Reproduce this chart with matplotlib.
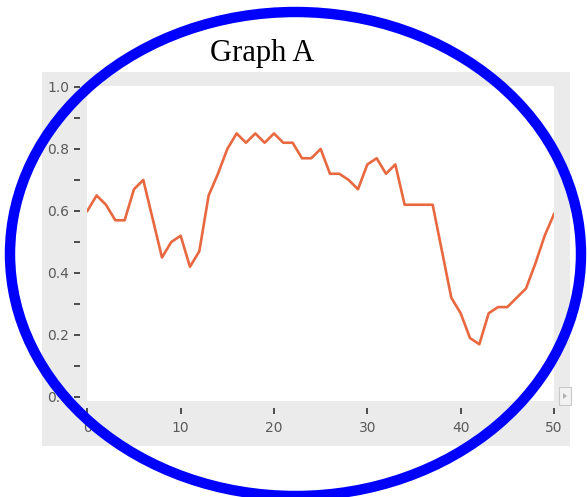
import matplotlib
matplotlib.use('Agg')
import matplotlib.pyplot as plt
from matplotlib.patches import Ellipse, Rectangle, Polygon

# values
x_vals = list(range(51))
y_vals = [0.60, 0.65, 0.62, 0.57, 0.57, 0.67, 0.70, 0.575, 0.45, 0.50,
          0.52, 0.42, 0.47, 0.65, 0.72, 0.80, 0.85, 0.82, 0.85, 0.82,
          0.85, 0.82, 0.82, 0.77, 0.77, 0.80, 0.72, 0.72, 0.70, 0.67,
          0.75, 0.77, 0.72, 0.75, 0.62, 0.62, 0.62, 0.62, 0.47, 0.32,
          0.27, 0.19, 0.17, 0.27, 0.29, 0.29, 0.32, 0.35, 0.43, 0.52,
          0.59]
x_ticks = [0, 10, 20, 30, 40, 50]
y_ticks = [0.0, 0.2, 0.4, 0.6, 0.8, 1.0]
y_minor = [0.1, 0.3, 0.5, 0.7, 0.9]
title = 'Graph A'

W, H = 587, 497
fig = plt.figure(figsize=(W / 100, H / 100), dpi=100)
fig.patch.set_facecolor('white')


def px(x, y):
    # pixel coords (top-left origin) -> inches for dpi_scale_trans
    return x / 100, (H - y) / 100


# grey panel behind the plot
gx, gy = px(42, 446)
fig.add_artist(Rectangle((gx, gy), (570 - 42) / 100, (446 - 72) / 100,
                         transform=fig.dpi_scale_trans, facecolor='#ebebeb',
                         edgecolor='none', zorder=-1))

# little scroll arrow box at bottom right
bx, by = px(559, 405)
fig.add_artist(Rectangle((bx, by), 0.12, 0.18, transform=fig.dpi_scale_trans,
                         facecolor='#f2f2f2', edgecolor='#c8c8c8', lw=0.8, zorder=2))
fig.add_artist(Polygon([px(563, 393), px(563, 399), px(567, 396)],
                       transform=fig.dpi_scale_trans, facecolor='#b0b0b0',
                       edgecolor='none', zorder=3))

ax = fig.add_axes([87.3 / W, 1 - 400.7 / H, 466.7 / W, 315 / H])
ax.set_facecolor('white')
ax.plot(x_vals, y_vals, color='#e8683f', lw=1.9)
ax.set_xlim(0, 50)
ax.set_ylim(-0.012, 1.004)

for s in ax.spines.values():
    s.set_visible(False)
ax.spines['left'].set_position(('outward', 5))
ax.spines['bottom'].set_position(('outward', 5.5))

ax.set_xticks(x_ticks)
ax.set_xticklabels([str(t) for t in x_ticks])
ax.set_yticks(y_ticks)
ax.set_yticklabels(['%.1f' % t for t in y_ticks])
ax.set_yticks(y_minor, minor=True)
ax.tick_params(axis='both', which='both', direction='out', color='#222222',
               width=1.1, labelcolor='#5a5a5a', labelsize=10)
ax.tick_params(axis='y', which='both', length=4.5, pad=3.5)
ax.tick_params(axis='x', which='major', length=4, pad=5)

fig.text(262 / W, 1 - 53 / H, title, family='Liberation Serif', fontsize=22,
         ha='center', va='center', color='black')

# blue hand-drawn ellipse over everything
ex, ey = px(295.5, 254)
fig.add_artist(Ellipse((ex, ey), 5.71, 4.84, transform=fig.dpi_scale_trans,
                       fill=False, edgecolor='#0000ff', lw=7.5, zorder=10))

fig.savefig('out.png', dpi=100)
